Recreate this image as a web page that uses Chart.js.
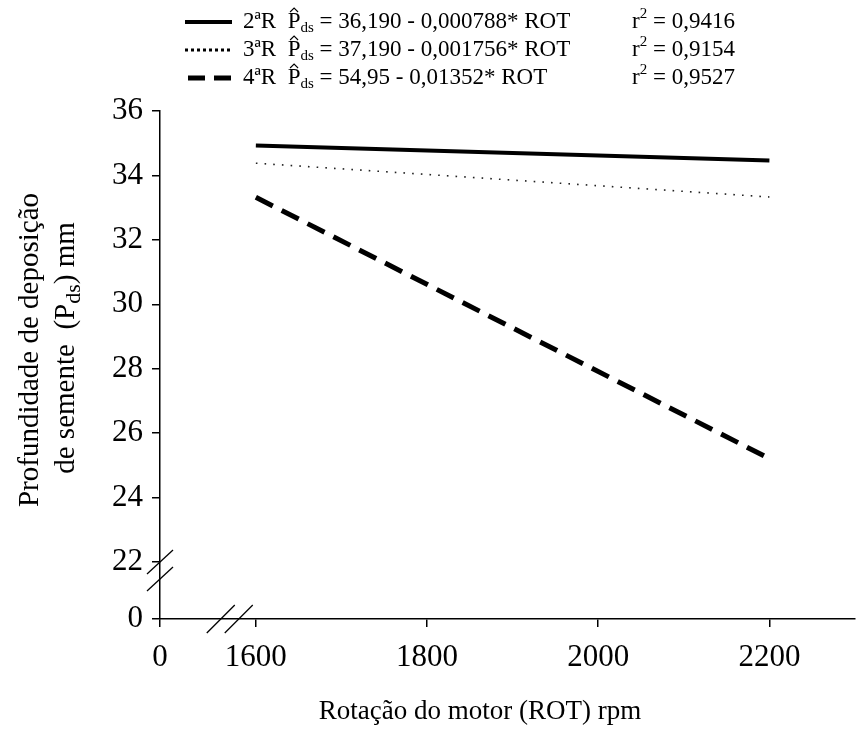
<!DOCTYPE html>
<html>
<head>
<meta charset="utf-8">
<script src="https://cdn.jsdelivr.net/npm/chart.js@4"></script>
<style>
  html, body { margin: 0; padding: 0; background: #fff; }
</style>
</head>
<body>
<canvas id="chart" width="858" height="729"></canvas>
<script>
// regression lines (endpoints at 1600 and 2200 rpm)
const rotations = [1600, 2200];
const depth2R = [34.93, 34.46];
const depth3R = [34.38, 33.33];
const depth4R = [33.32, 25.21];

const seriesNames = ["2ªR", "3ªR", "4ªR"];
const equations = ["= 36,190 - 0,000788* ROT", "= 37,190 - 0,001756* ROT", "= 54,95 - 0,01352* ROT"];
const r2Values = ["0,9416", "0,9154", "0,9527"];

const xTicks = [0, 1600, 1800, 2000, 2200];
const yTicks = [0, 22, 24, 26, 28, 30, 32, 34, 36];

// both axes are broken: "0" sits at these scale values
const X_ORIGIN = 1488;
const Y_ORIGIN = 20.23;

const FONT = "'Liberation Serif', 'Times New Roman', serif";

const styles = [
  { color: "#000", width: 4, dash: [] },
  { color: "#222", width: 1.6, dash: [1.6, 7.1] },
  { color: "#000", width: 5, dash: [19, 10] }
];
// legend samples look a bit different from the plotted lines
const legendDash = [[], [3, 3], [17, 9]];
const legendWidth = [4, 3, 5];

function toPoints(ys) {
  return rotations.map((x, i) => ({ x: x, y: ys[i] }));
}

// draws text pieces in a row, small ones shifted up/down
function drawRuns(ctx, runs, x, y) {
  runs.forEach(r => {
    ctx.font = r.size + "px " + FONT;
    const w = ctx.measureText(r.text).width;
    ctx.fillText(r.text, x, y + (r.shift || 0));
    if (r.hat) {
      const cx = x + w / 2;
      ctx.save();
      ctx.lineWidth = 1.1;
      ctx.beginPath();
      ctx.moveTo(cx - 4, y - 10);
      ctx.lineTo(cx, y - 14);
      ctx.lineTo(cx + 4, y - 10);
      ctx.stroke();
      ctx.restore();
    }
    x += w;
  });
}

function runsWidth(ctx, runs) {
  let w = 0;
  runs.forEach(r => {
    ctx.font = r.size + "px " + FONT;
    w += ctx.measureText(r.text).width;
  });
  return w;
}

const decorations = {
  id: "decorations",
  afterDraw(chart) {
    const ctx = chart.ctx;
    const xs = chart.scales.x;
    const ys = chart.scales.y;
    ctx.save();
    ctx.fillStyle = "#000";
    ctx.strokeStyle = "#000";

    // axis break marks
    ctx.lineWidth = 1.3;
    const xAxisY = ys.getPixelForValue(Y_ORIGIN);
    [1559, 1580].forEach(v => {
      const cx = xs.getPixelForValue(v);
      ctx.beginPath();
      ctx.moveTo(cx - 14, xAxisY + 14);
      ctx.lineTo(cx + 14, xAxisY - 14);
      ctx.stroke();
    });
    const yAxisX = xs.getPixelForValue(X_ORIGIN);
    [22, 21.47].forEach(v => {
      const cy = ys.getPixelForValue(v);
      ctx.beginPath();
      ctx.moveTo(yAxisX - 13, cy + 12);
      ctx.lineTo(yAxisX + 13, cy - 12);
      ctx.stroke();
    });

    // x axis title
    ctx.textBaseline = "middle";
    ctx.textAlign = "center";
    ctx.font = "27px " + FONT;
    ctx.fillText("Rotação do motor (ROT) rpm", 480, 712);

    // y axis title, two rotated lines
    ctx.save();
    ctx.translate(30, 350);
    ctx.rotate(-Math.PI / 2);
    ctx.font = "29px " + FONT;
    ctx.fillText("Profundidade de deposição", 0, 0);
    ctx.restore();

    ctx.save();
    ctx.translate(66, 348);
    ctx.rotate(-Math.PI / 2);
    ctx.textAlign = "left";
    const titleRuns = [
      { text: "de semente  (P", size: 29 },
      { text: "ds", size: 22, shift: 8 },
      { text: ") mm", size: 29 }
    ];
    drawRuns(ctx, titleRuns, -runsWidth(ctx, titleRuns) / 2, 0);
    ctx.restore();

    // legend
    const rowY = [22, 50, 78];
    ctx.textAlign = "left";
    seriesNames.forEach((name, i) => {
      const y = rowY[i];
      ctx.save();
      ctx.lineWidth = legendWidth[i];
      ctx.strokeStyle = "#000";
      ctx.setLineDash(legendDash[i]);
      ctx.beginPath();
      ctx.moveTo(i === 2 ? 188 : 185, y);
      ctx.lineTo(232, y);
      ctx.stroke();
      ctx.restore();

      drawRuns(ctx, [
        { text: name + "  ", size: 23 },
        { text: "P", size: 23, hat: true },
        { text: "ds", size: 15, shift: 6 },
        { text: " " + equations[i], size: 23 }
      ], 243, y);

      drawRuns(ctx, [
        { text: "r", size: 23 },
        { text: "2", size: 15, shift: -8 },
        { text: " = " + r2Values[i], size: 23 }
      ], 632, y);
    });

    ctx.restore();
  }
};

new Chart(document.getElementById("chart"), {
  type: "line",
  data: {
    datasets: [depth2R, depth3R, depth4R].map((d, i) => ({
      label: seriesNames[i],
      data: toPoints(d),
      borderColor: styles[i].color,
      borderWidth: styles[i].width,
      borderDash: styles[i].dash,
      borderCapStyle: "butt",
      pointRadius: 0,
      fill: false,
      tension: 0
    }))
  },
  options: {
    responsive: false,
    animation: false,
    layout: { padding: { top: 111, right: 3, left: 0, bottom: 0 } },
    plugins: { legend: { display: false }, tooltip: { enabled: false } },
    scales: {
      x: {
        type: "linear",
        min: X_ORIGIN,
        max: 2300,
        afterBuildTicks: s => { s.ticks = xTicks.map(v => ({ value: v === 0 ? X_ORIGIN : v })); },
        afterFit: s => { s.height = 110; },
        ticks: {
          callback: v => (v === X_ORIGIN ? "0" : String(v)),
          font: { family: FONT, size: 31 },
          color: "#000",
          padding: 12,
          maxRotation: 0,
          autoSkip: false
        },
        grid: { drawOnChartArea: false, drawTicks: true, tickLength: 8, color: "#000", lineWidth: 1.5 },
        border: { display: true, color: "#000", width: 1.5 }
      },
      y: {
        min: Y_ORIGIN,
        max: 36,
        afterBuildTicks: s => { s.ticks = yTicks.map(v => ({ value: v === 0 ? Y_ORIGIN : v })); },
        afterFit: s => { s.width = 160; },
        ticks: {
          callback: v => (v === Y_ORIGIN ? "0" : String(v)),
          font: { family: FONT, size: 31 },
          color: "#000",
          padding: 9,
          autoSkip: false
        },
        grid: { drawOnChartArea: false, drawTicks: true, tickLength: 8, color: "#000", lineWidth: 1.5 },
        border: { display: true, color: "#000", width: 1.5 }
      }
    }
  },
  plugins: [decorations]
});
</script>
</body>
</html>
